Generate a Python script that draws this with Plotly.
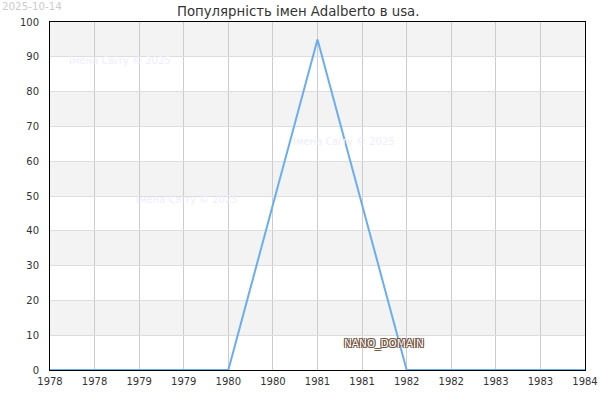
import plotly.graph_objects as go

years = [1978, 1979, 1980, 1981, 1982, 1983, 1984]
values = [0, 0, 0, 95, 0, 0, 0]

tick_vals = [1978 + i * 0.5 for i in range(13)]
tick_text = [str(int(v)) for v in tick_vals]

title = "Популярність імен Adalberto в usa."
watermark = "Імена Світу © 2025"
date_label = "2025-10-14"

fig = go.Figure()

# alternating horizontal bands
for lo in range(10, 100, 20):
    fig.add_shape(type="rect", xref="paper", yref="y", x0=0, x1=1, y0=lo, y1=lo + 10,
                  fillcolor="#f3f3f3", line_width=0, layer="below")

fig.add_trace(go.Scatter(x=years, y=values, mode="lines",
                         line=dict(color="#6aaef0", width=2), showlegend=False,
                         hoverinfo="x+y"))

# faint watermarks
for wx, wy in [(1978.79, 88.8), (1981.3, 65.8), (1979.54, 48.9)]:
    fig.add_annotation(x=wx, y=wy, text=watermark, showarrow=False,
                       font=dict(size=10, color="#eeeeff"))

fig.add_annotation(x=1981.746, y=7.6, text="NANO_DOMAIN", showarrow=False,
                   font=dict(size=10.5, color="#fdf8f0",
                             shadow="1px 1px 0 #6b5040, -1px -1px 0 #6b5040, 1px -1px 0 #6b5040, -1px 1px 0 #6b5040"))

fig.add_annotation(xref="paper", yref="paper", x=-0.0935, y=1.047, xanchor="left",
                   yanchor="middle", text=date_label, showarrow=False,
                   font=dict(size=10.3, color="#cccccc"))

fig.update_layout(
    width=600, height=400,
    margin=dict(l=50, r=15, t=22, b=30),
    paper_bgcolor="white", plot_bgcolor="white",
    font=dict(family="DejaVu Sans", size=10, color="#333333"),
    title=dict(text=title, x=0.497, xanchor="center", y=0.972, yanchor="middle",
               font=dict(size=13.3, color="#333333")),
)
fig.update_xaxes(range=[1978, 1984], tickvals=tick_vals, ticktext=tick_text,
                 showgrid=True, gridcolor="#cccccc", gridwidth=1,
                 showline=True, linecolor="#000000", linewidth=1, mirror=True,
                 ticks="outside", ticklen=2, tickcolor="rgba(0,0,0,0)",
                 zeroline=False, automargin=False)
fig.update_yaxes(range=[0, 100], dtick=10, showgrid=True, gridcolor="#dddddd",
                 showline=True, linecolor="#000000", linewidth=1, mirror=True,
                 ticks="outside", ticklen=8, tickcolor="rgba(0,0,0,0)",
                 zeroline=False, automargin=False)

# page has a default 8px body margin; drop it so the figure fills the window
fig.write_html("out.html", config={"displayModeBar": False},
               post_script="document.body.style.margin = '0';")
